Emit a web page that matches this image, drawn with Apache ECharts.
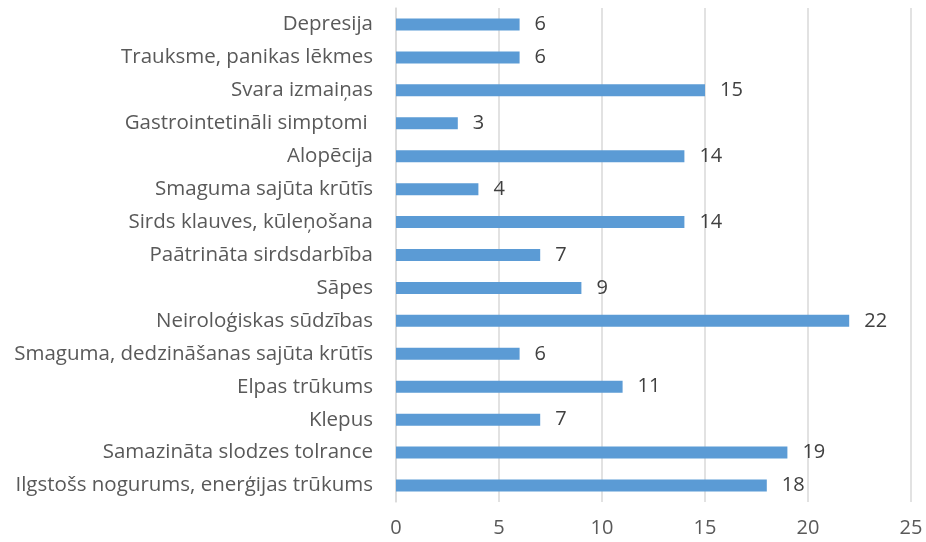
<!DOCTYPE html>
<html>
<head>
<meta charset="utf-8">
<script src="https://cdn.jsdelivr.net/npm/echarts@6/dist/echarts.min.js"></script>
<style>html,body{margin:0;padding:0;background:#fff}#c{width:926px;height:542px}</style>
</head>
<body>
<div id="c"></div>
<script>
// Categories, top to bottom as shown
var categories = [
  "Depresija",
  "Trauksme, panikas lēkmes",
  "Svara izmaiņas",
  "Gastrointetināli simptomi ",
  "Alopēcija",
  "Smaguma sajūta krūtīs",
  "Sirds klauves, kūleņošana",
  "Paātrināta sirdsdarbība",
  "Sāpes",
  "Neiroloģiskas sūdzības",
  "Smaguma, dedzināšanas sajūta krūtīs",
  "Elpas trūkums",
  "Klepus",
  "Samazināta slodzes tolrance",
  "Ilgstošs nogurums, enerģijas trūkums"
];
var values = [6, 6, 15, 3, 14, 4, 14, 7, 9, 22, 6, 11, 7, 19, 18];
var xTicks = [0, 5, 10, 15, 20, 25];

var font = "'Open Sans', sans-serif";
var chart = echarts.init(document.getElementById('c'), null, {renderer: 'canvas'});
chart.setOption({
  animation: false,
  backgroundColor: '#ffffff',
  grid: {left: 396, right: 15, top: 8, bottom: 40, containLabel: false},
  xAxis: {
    type: 'value', min: xTicks[0], max: xTicks[xTicks.length - 1], interval: 5,
    axisLine: {show: false}, axisTick: {show: false},
    splitLine: {show: true, lineStyle: {color: '#d9d9d9', width: 1.5}},
    axisLabel: {color: '#595959', fontSize: 20, fontFamily: font, margin: 16}
  },
  yAxis: {
    type: 'category', data: categories, inverse: true,
    axisLine: {show: true, lineStyle: {color: '#d9d9d9', width: 1.5}},
    axisTick: {show: false},
    axisLabel: {color: '#595959', fontSize: 20.5, fontFamily: font, margin: 23}
  },
  series: [{
    type: 'bar', data: values, barWidth: 12,
    itemStyle: {color: '#5b9bd5'},
    label: {show: true, position: 'right', distance: 15, color: '#404040', fontSize: 20, fontFamily: font}
  }]
});
</script>
</body>
</html>
